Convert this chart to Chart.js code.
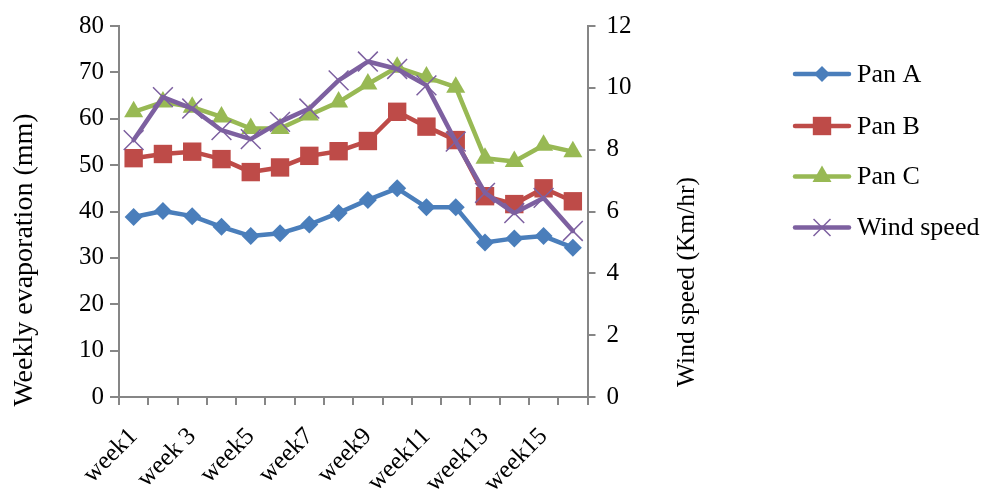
<!DOCTYPE html>
<html>
<head>
<meta charset="utf-8">
<script src="https://cdn.jsdelivr.net/npm/chart.js@4/dist/chart.umd.min.js"></script>
<style>
  html, body { margin: 0; padding: 0; background: #fff; }
  #wrap { width: 990px; height: 489px; }
</style>
</head>
<body>
<div id="wrap"><canvas id="c" width="990" height="489"></canvas></div>
<script>
// Weekly pan evaporation (mm) and wind speed (Km/hr)
const weeks = ['week1', 'week2', 'week 3', 'week4', 'week5', 'week6', 'week7', 'week8',
               'week9', 'week10', 'week11', 'week12', 'week13', 'week14', 'week15', 'week16'];
const panA = [38.8, 40.1, 39.0, 36.7, 34.7, 35.3, 37.2, 39.7, 42.5, 45.0, 40.9, 40.9, 33.3, 34.2, 34.7, 32.2];
const panB = [51.5, 52.4, 52.9, 51.3, 48.5, 49.5, 52.0, 53.0, 55.2, 61.5, 58.3, 55.4, 43.3, 41.6, 45.0, 42.2];
const panC = [61.5, 63.6, 62.5, 60.4, 57.9, 57.9, 60.8, 63.6, 67.5, 71.1, 69.0, 66.8, 51.5, 50.8, 54.3, 52.9];
const windSpeed = [8.31, 9.70, 9.33, 8.63, 8.34, 8.90, 9.33, 10.24, 10.85, 10.61, 10.08, 8.26, 6.60, 5.95, 6.44, 5.37];

const leftTitle = 'Weekly evaporation (mm)';
const rightTitle = 'Wind speed (Km/hr)';

const FONT = '"Liberation Serif", "Times New Roman", Times, serif';
const AXIS = '#868686';

const series = [
  { label: 'Pan A', data: panA, axis: 'y', color: '#4A7EBB', style: 'rectRot', r: 9, lr: 8 },
  { label: 'Pan B', data: panB, axis: 'y', color: '#BE4B48', style: 'rect', r: 13, lr: 13 },
  { label: 'Pan C', data: panC, axis: 'y', color: '#98B954', style: 'triangle', r: 11, lr: 11 },
  { label: 'Wind speed', data: windSpeed, axis: 'y1', color: '#7D60A0', style: 'crossRot', r: 14, lr: 12 }
];

function drawMarker(ctx, style, x, y, r, color) {
  ctx.save();
  ctx.fillStyle = color;
  ctx.strokeStyle = color;
  ctx.beginPath();
  if (style === 'rectRot') {
    ctx.moveTo(x - r, y); ctx.lineTo(x, y - r); ctx.lineTo(x + r, y); ctx.lineTo(x, y + r);
    ctx.closePath(); ctx.fill();
  } else if (style === 'rect') {
    const s = r * Math.SQRT1_2;
    ctx.rect(x - s, y - s, 2 * s, 2 * s); ctx.fill();
  } else if (style === 'triangle') {
    const a = Math.PI * 2 / 3;
    ctx.moveTo(x, y - r);
    ctx.lineTo(x + Math.sin(a) * r, y - Math.cos(a) * r);
    ctx.lineTo(x + Math.sin(2 * a) * r, y - Math.cos(2 * a) * r);
    ctx.closePath(); ctx.fill();
  } else if (style === 'crossRot') {
    const d = r * Math.SQRT1_2;
    ctx.lineWidth = 1.5;
    ctx.moveTo(x - d, y - d); ctx.lineTo(x + d, y + d);
    ctx.moveTo(x - d, y + d); ctx.lineTo(x + d, y - d);
    ctx.stroke();
  }
  ctx.restore();
}

// Axis titles and the legend on the right
const decorations = {
  id: 'decorations',
  afterDraw(chart) {
    const ctx = chart.ctx;
    ctx.save();
    ctx.fillStyle = '#000';
    ctx.textAlign = 'center';
    ctx.textBaseline = 'middle';

    ctx.font = '28px ' + FONT;
    ctx.save();
    ctx.translate(25, 260);
    ctx.rotate(-Math.PI / 2);
    ctx.fillText(leftTitle, 0, 0);
    ctx.restore();

    ctx.font = '25.5px ' + FONT;
    ctx.save();
    ctx.translate(687, 282);
    ctx.rotate(-Math.PI / 2);
    ctx.fillText(rightTitle, 0, 0);
    ctx.restore();

    const rowY = [74, 126, 176.5, 227.5];
    ctx.font = '26px ' + FONT;
    ctx.textAlign = 'left';
    series.forEach((s, i) => {
      const y = rowY[i];
      ctx.save();
      ctx.strokeStyle = s.color;
      ctx.lineWidth = 4.5;
      ctx.lineCap = 'round';
      ctx.beginPath();
      ctx.moveTo(795, y); ctx.lineTo(849, y);
      ctx.stroke();
      ctx.restore();
      drawMarker(ctx, s.style, 822, y, s.lr, s.color);
      ctx.fillStyle = '#000';
      ctx.fillText(s.label, 857, y + 1);
    });
    ctx.restore();
  }
};

const datasets = series.map((s, i) => ({
  label: s.label,
  data: s.data,
  yAxisID: s.axis,
  borderColor: s.color,
  backgroundColor: s.color,
  borderWidth: 4.5,
  borderJoinStyle: 'round',
  borderCapStyle: 'round',
  pointStyle: s.style,
  pointRadius: s.r,
  pointBackgroundColor: s.color,
  pointBorderColor: s.color,
  pointBorderWidth: s.style === 'crossRot' ? 1.5 : 0,
  tension: 0,
  fill: false,
  clip: false,
  order: series.length - i
}));

const tickFont = { family: FONT, size: 25 };

new Chart(document.getElementById('c'), {
  type: 'line',
  data: { labels: weeks, datasets },
  options: {
    responsive: false,
    animation: false,
    devicePixelRatio: 1,
    events: [],
    layout: { padding: { top: 23.5, left: 0, right: 0, bottom: 0 } },
    plugins: { legend: { display: false }, tooltip: { enabled: false } },
    scales: {
      x: {
        offset: true,
        grid: { offset: true, drawOnChartArea: false, drawTicks: true, tickLength: 8, color: AXIS, lineWidth: 2 },
        border: { color: AXIS, width: 2 },
        ticks: {
          autoSkip: false, minRotation: 45, maxRotation: 45, padding: 17, color: '#000', font: tickFont,
          callback(v, i) { return i % 2 === 0 ? this.getLabelForValue(v) : ''; }
        },
        afterFit(s) { s.height = 92; }
      },
      y: {
        position: 'left', min: 0, max: 80,
        ticks: { stepSize: 10, padding: 6, color: '#000', font: tickFont },
        grid: { drawOnChartArea: false, tickLength: 9, color: AXIS, lineWidth: 2 },
        border: { color: AXIS, width: 2 },
        afterFit(s) { s.width = 119; }
      },
      y1: {
        position: 'right', min: 0, max: 12,
        ticks: { stepSize: 2, padding: 11, color: '#000', font: tickFont },
        grid: { drawOnChartArea: false, tickLength: 8, color: AXIS, lineWidth: 2 },
        border: { color: AXIS, width: 2 },
        afterFit(s) { s.width = 402.5; }
      }
    }
  },
  plugins: [decorations]
});
</script>
</body>
</html>
